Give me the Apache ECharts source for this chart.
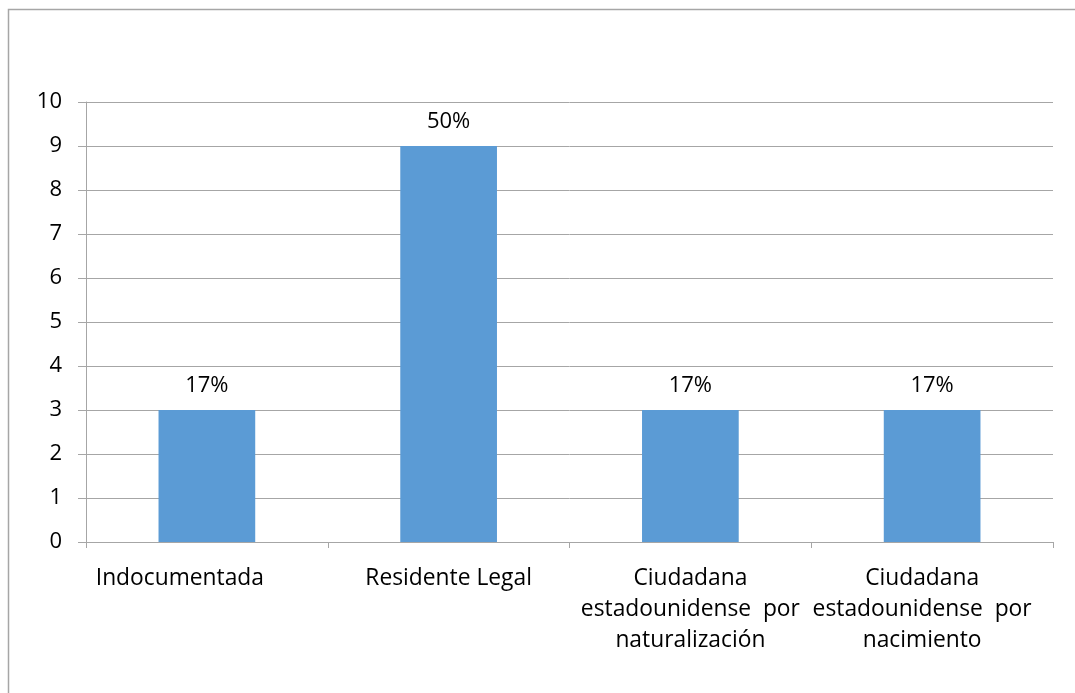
<!DOCTYPE html>
<html>
<head>
<meta charset="utf-8">
<style>html,body{margin:0;padding:0;background:#fff}#c{width:1075px;height:693px}</style>
<script src="https://cdn.jsdelivr.net/npm/echarts@6/dist/echarts.min.js"></script>
</head>
<body>
<div id="c"></div>
<script>
const categories = ["Indocumentada", "Residente Legal", "Ciudadana\nestadounidense  por\nnaturalización", "Ciudadana\nestadounidense  por\nnacimiento"];
const values = [3, 9, 3, 3];
const percentLabels = ["17%", "50%", "17%", "17%"];
const yTicks = [0, 1, 2, 3, 4, 5, 6, 7, 8, 9, 10];

const chart = echarts.init(document.getElementById('c'));
const font = '"Open Sans", Lato, sans-serif';
const labelPads = [[0, 54, 0, 0], [0, 0, 0, 0], [0, 0, 0, 0], [0, 20, 0, 0]];
chart.setOption({
  animation: false,
  graphic: [{
    type: 'rect', shape: {x: 8.5, y: 9.5, width: 1200, height: 800},
    style: {fill: 'none', stroke: '#a6a6a6', lineWidth: 1.5}
  }],
  grid: {left: 86, right: 22, top: 102, bottom: 151},
  xAxis: {
    type: 'category',
    data: categories.map((c, i) => ({value: c, textStyle: {padding: labelPads[i]}})),
    axisLine: {lineStyle: {color: '#a6a6a6', width: 1}},
    axisTick: {show: true, length: 6, lineStyle: {color: '#a6a6a6'}},
    axisLabel: {color: '#000', fontFamily: font, fontSize: 22.8, lineHeight: 31, margin: 21, interval: 0, align: 'center'}
  },
  yAxis: {
    type: 'value', min: yTicks[0], max: yTicks[yTicks.length - 1], interval: 1,
    axisLine: {show: true, lineStyle: {color: '#a6a6a6', width: 1}},
    axisTick: {show: true, length: 8, inside: false, lineStyle: {color: '#a6a6a6'}},
    splitLine: {lineStyle: {color: '#a6a6a6', width: 1}},
    axisLabel: {color: '#000', fontFamily: font, fontSize: 22, margin: 24}
  },
  series: [{
    type: 'bar', data: values, barWidth: '40%',
    itemStyle: {color: '#5b9bd5'},
    label: {
      show: true, position: 'top', distance: 13, color: '#000',
      fontFamily: font, fontSize: 22,
      formatter: p => percentLabels[p.dataIndex]
    }
  }]
});
</script>
</body>
</html>
